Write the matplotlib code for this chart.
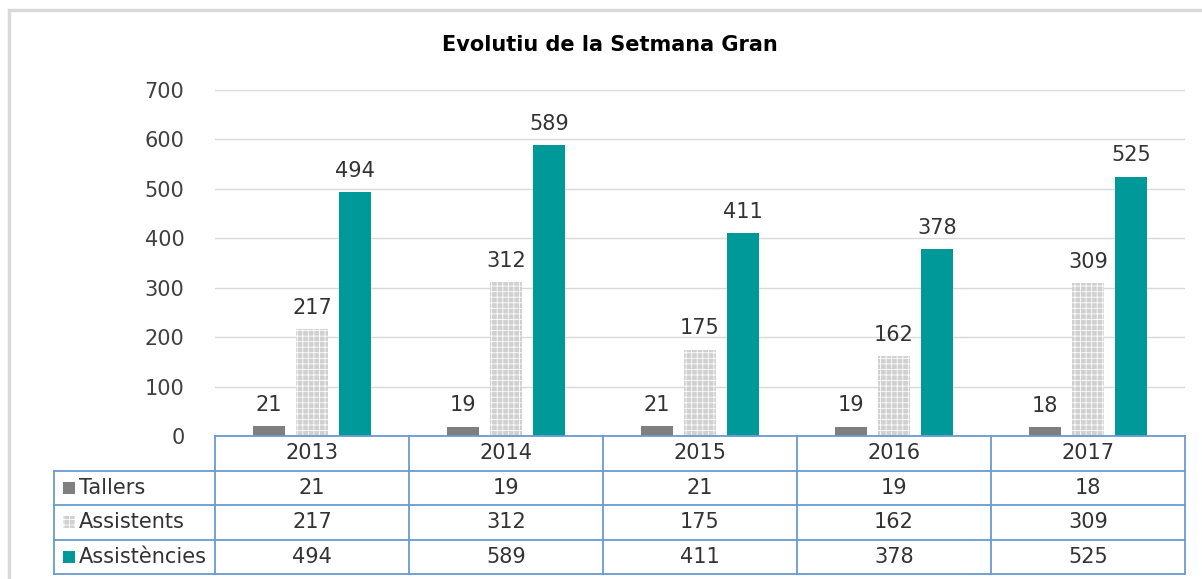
import matplotlib.pyplot as plt
import matplotlib.patches as mpatches
import numpy as np

years = ['2013', '2014', '2015', '2016', '2017']
tallers = [21, 19, 21, 19, 18]
assistents = [217, 312, 175, 162, 309]
assistencies = [494, 589, 411, 378, 525]
series_names = ['Tallers', 'Assistents', 'Assistències']

grey = '#7f7f7f'
light = '#d0d0d0'
teal = '#009999'
blue = '#6a9bd1'
txt = '#333333'

plt.rcParams['hatch.linewidth'] = 0.6

W, H = 1202, 579
fig = plt.figure(figsize=(W / 100, H / 100), dpi=100)

def px(x0, y0, x1, y1):
    # pixel box (top-left origin) -> figure fraction
    return [x0 / W, 1 - y1 / H, (x1 - x0) / W, (y1 - y0) / H]

# chart area border (runs off the right and bottom edges)
fig.patches.append(mpatches.Rectangle((9 / W, -0.1), 1.2, 1 - 10 / H + 0.1,
                                      transform=fig.transFigure, fill=False,
                                      edgecolor='#d9d9d9', linewidth=2.5))

fig.text(610 / W, 1 - 45 / H, 'Evolutiu de la Setmana Gran', ha='center',
         va='center', fontsize=15, fontweight='bold', color='#000000')

ax = fig.add_axes(px(215, 90, 1185, 436))
x = np.arange(len(years))
bw = 0.17
off = 0.2216

b1 = ax.bar(x - off, tallers, bw, color=grey)
b2 = ax.bar(x, assistents, bw, color=light, edgecolor='white', hatch='+++', linewidth=0)
b3 = ax.bar(x + off, assistencies, bw, color=teal)

for bars, vals in [(b1, tallers), (b2, assistents), (b3, assistencies)]:
    for rect, v in zip(bars, vals):
        ax.annotate(str(v), (rect.get_x() + rect.get_width() / 2, v),
                    xytext=(0, 8), textcoords='offset points', ha='center',
                    va='bottom', fontsize=15, color=txt)

ax.set_xlim(-0.5, 4.5)
ax.set_ylim(0, 700)
ax.set_yticks(range(0, 701, 100))
ax.set_xticks([])
ax.tick_params(axis='y', length=0, pad=22, labelsize=15, labelcolor='#404040')
for s in ax.spines.values():
    s.set_visible(False)
ax.grid(axis='y', color='#d9d9d9', linewidth=1)
ax.set_axisbelow(True)

# data table
tx = fig.add_axes(px(54, 436, 1185, 574))
left = -0.5 - (215 - 54) / 194
tx.set_xlim(left, 4.5)
tx.set_ylim(0, 4)
tx.axis('off')
rows = [tallers, assistents, assistencies]
colors = [grey, light, teal]
lw = 1.3
tx.plot([-0.5, 4.5], [4, 4], color=blue, lw=lw, clip_on=False)
for yy in [0, 1, 2, 3]:
    tx.plot([left, 4.5], [yy, yy], color=blue, lw=lw, clip_on=False)
tx.plot([left, left], [0, 3], color=blue, lw=lw, clip_on=False)
for xx in np.arange(-0.5, 5, 1):
    tx.plot([xx, xx], [0, 4], color=blue, lw=lw, clip_on=False)
for i, yr in enumerate(years):
    tx.text(i, 3.5, yr, ha='center', va='center', fontsize=15, color=txt)
for r, (name, vals, c) in enumerate(zip(series_names, rows, colors)):
    yc = 2.5 - r
    for i, v in enumerate(vals):
        tx.text(i, yc, str(v), ha='center', va='center', fontsize=15, color=txt)
    mx = left + (63 - 54) / 194
    tx.add_patch(mpatches.Rectangle((mx, yc - 0.17), 12 / 194, 0.34, facecolor=c,
                                    edgecolor='white' if r == 1 else c,
                                    hatch='+++' if r == 1 else None, linewidth=0))
    tx.text(left + (79 - 54) / 194, yc, name, ha='left', va='center',
            fontsize=15, color=txt)

fig.savefig('out.png', dpi=100)
